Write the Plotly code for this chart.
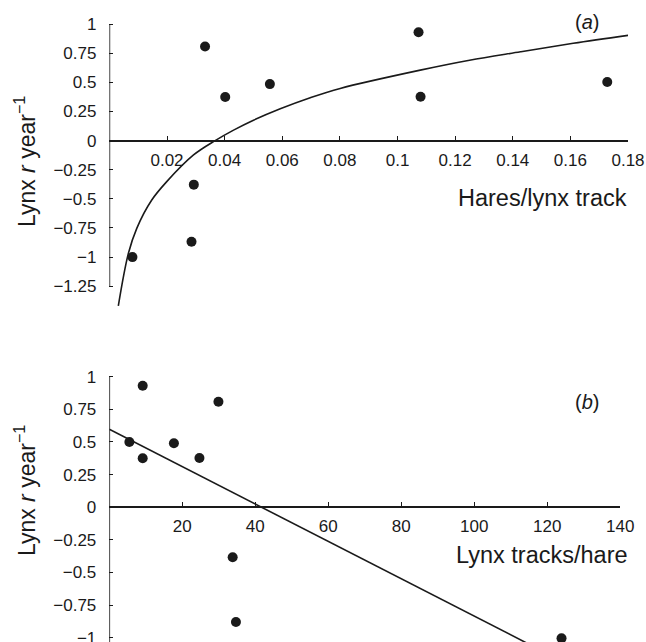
import plotly.graph_objects as go

# ---------------- data ----------------
# Panel (a): hares per lynx track vs lynx r
a_x = [0.0080, 0.0285, 0.0293, 0.0332, 0.0402, 0.0557, 0.1073, 0.1080, 0.1728]
a_y = [-1.00, -0.868, -0.378, 0.808, 0.374, 0.485, 0.930, 0.377, 0.503]
# fitted curve
a_fit_x = [0.0031, 0.0066, 0.0095, 0.0147, 0.0199, 0.0292, 0.0367, 0.0431, 0.0500,
           0.0593, 0.0697, 0.0801, 0.1079, 0.1250, 0.1427, 0.1610, 0.1806]
a_fit_y = [-1.418, -0.967, -0.753, -0.510, -0.352, -0.123, 0.000, 0.090, 0.175,
           0.273, 0.368, 0.448, 0.605, 0.690, 0.762, 0.835, 0.905]
a_xticks = [0.02, 0.04, 0.06, 0.08, 0.10, 0.12, 0.14, 0.16, 0.18]
a_xtext = ["0.02", "0.04", "0.06", "0.08", "0.1", "0.12", "0.14", "0.16", "0.18"]
a_yticks = [1, 0.75, 0.5, 0.25, 0, -0.25, -0.5, -0.75, -1, -1.25]
a_ytext = ["1", "0.75", "0.5", "0.25", "0", "\u22120.25", "\u22120.5", "\u22120.75", "\u22121", "\u22121.25"]

# Panel (b): lynx tracks per hare vs lynx r
b_x = [5.5, 9.15, 9.15, 17.7, 24.7, 29.9, 33.8, 34.7, 123.9]
b_y = [0.50, 0.930, 0.375, 0.49, 0.377, 0.808, -0.383, -0.88, -1.005]
b_fit_x = [0, 140]
b_fit_y = [0.597, -1.408]
b_xticks = [20, 40, 60, 80, 100, 120, 140]
b_xtext = ["20", "40", "60", "80", "100", "120", "140"]
b_yticks = [1, 0.75, 0.5, 0.25, 0, -0.25, -0.5, -0.75, -1]
b_ytext = ["1", "0.75", "0.5", "0.25", "0", "\u22120.25", "\u22120.5", "\u22120.75", "\u22121"]

# ---------------- layout geometry (pixels) ----------------
W, H = 646, 642
FONT = "Liberation Sans, Arial, Helvetica, sans-serif"
INK = "#1a1a1a"

def px_x(p):
    return min(1.0, max(0.0, p / W))

def px_y(p):
    return min(1.0, max(0.0, 1 - p / H))

# top panel
A_XR = [0, 0.18]
A_YR = [-1.5, 1.1]
A_Y0, A_UNIT = 140.6, 116.5
a_top = A_Y0 - A_YR[1] * A_UNIT
a_bot = A_Y0 - A_YR[0] * A_UNIT
# bottom panel
B_XR = [0, 140]
B_YR = [-1.033, 1.1]
B_Y0, B_UNIT = 507.2, 130.5
b_top = B_Y0 - B_YR[1] * B_UNIT
b_bot = B_Y0 - B_YR[0] * B_UNIT

fig = go.Figure()

marker = dict(size=10, color=INK)
fig.add_trace(go.Scatter(x=a_fit_x, y=a_fit_y, mode="lines",
                         line=dict(color=INK, width=1.6, shape="spline", smoothing=1.0),
                         xaxis="x", yaxis="y", showlegend=False, hoverinfo="skip"))
fig.add_trace(go.Scatter(x=a_x, y=a_y, mode="markers", marker=marker, cliponaxis=False,
                         xaxis="x", yaxis="y", showlegend=False))
fig.add_trace(go.Scatter(x=b_fit_x, y=b_fit_y, mode="lines", line=dict(color=INK, width=1.6),
                         xaxis="x2", yaxis="y2", showlegend=False, hoverinfo="skip"))
fig.add_trace(go.Scatter(x=b_x, y=b_y, mode="markers", marker=marker, cliponaxis=False,
                         xaxis="x2", yaxis="y2", showlegend=False))

tickfont = dict(family=FONT, size=17, color=INK)
xcommon = dict(showgrid=False, zeroline=False, showline=True, linecolor=INK, linewidth=1.6,
               ticks="inside", ticklen=4, tickwidth=1.3, tickcolor=INK, tickfont=tickfont,
               anchor="free", side="bottom", ticklabelstandoff=4, ticklabeloverflow="allow")
ycommon = dict(showgrid=False, zeroline=False, showline=False,
               ticks="inside", ticklen=4, tickwidth=1.3, tickcolor=INK, tickfont=tickfont,
               ticklabelstandoff=12, ticklabeloverflow="allow")

fig.update_layout(
    width=W, height=H,
    margin=dict(l=0, r=0, t=0, b=0, autoexpand=False),
    paper_bgcolor="white", plot_bgcolor="white",
    font=dict(family=FONT, color=INK),
    xaxis=dict(xcommon, range=A_XR, domain=[px_x(109.4), px_x(628.0)],
               position=px_y(A_Y0), tickvals=a_xticks, ticktext=a_xtext),
    yaxis=dict(ycommon, range=A_YR, domain=[px_y(a_bot), px_y(a_top)], anchor="x",
               tickvals=a_yticks, ticktext=a_ytext),
    xaxis2=dict(xcommon, range=B_XR, domain=[px_x(109.3), px_x(620.3)],
                position=px_y(B_Y0), tickvals=b_xticks, ticktext=b_xtext),
    yaxis2=dict(ycommon, range=B_YR, domain=[px_y(b_bot), px_y(b_top)], anchor="x2",
                tickvals=b_yticks, ticktext=b_ytext),
    shapes=[
        dict(type="line", xref="x", yref="y", x0=0, x1=0, y0=a_yticks[-1], y1=a_yticks[0],
             line=dict(color=INK, width=1.6)),
        dict(type="line", xref="x2", yref="y2", x0=0, x1=0, y0=B_YR[0], y1=b_yticks[0],
             line=dict(color=INK, width=1.6)),
    ],
)

ytitle = "Lynx <i>r</i> year<sup>\u22121</sup>"
ann = [
    dict(text=ytitle, x=px_x(25), y=px_y(162), textangle=-90, font=dict(size=23)),
    dict(text=ytitle, x=px_x(25), y=px_y(491), textangle=-90, font=dict(size=23)),
    dict(text="Hares/lynx track", x=px_x(629), y=px_y(198), xanchor="right", font=dict(size=23.5)),
    dict(text="Lynx tracks/hare", x=px_x(630), y=px_y(555), xanchor="right", font=dict(size=23.5)),
    dict(text="(<i>a</i>)", x=px_x(587), y=px_y(22), font=dict(size=20)),
    dict(text="(<i>b</i>)", x=px_x(587), y=px_y(402), font=dict(size=20)),
]
for a in ann:
    a.update(xref="paper", yref="paper", showarrow=False)
    a.setdefault("xanchor", "center")
    a.setdefault("yanchor", "middle")
    a["font"] = dict(family=FONT, color=INK, size=a["font"]["size"])
fig.update_layout(annotations=ann)

fig.write_html(
    "out.html",
    config={"displayModeBar": False},
    post_script="document.body.style.margin='0';document.body.style.padding='0';",
)
